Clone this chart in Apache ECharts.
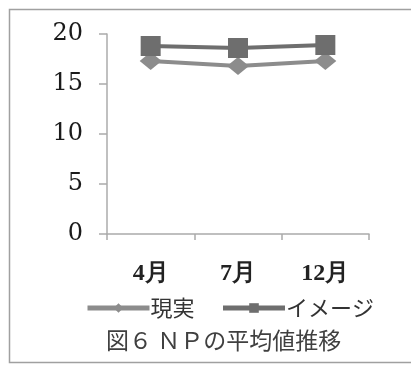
<!DOCTYPE html>
<html>
<head>
<meta charset="utf-8">
<script src="https://cdn.jsdelivr.net/npm/echarts@6/dist/echarts.min.js"></script>
<style>
  html, body { margin: 0; padding: 0; background: #fff; }
  #chart { width: 411px; height: 365px; }
</style>
</head>
<body>
<div id="chart"></div>
<script>
// Months surveyed and average NP scores for each series
const months = ['4月', '7月', '12月'];
const actualValues = [17.3, 16.8, 17.3];   // 現実
const imageValues = [18.8, 18.6, 18.9];    // イメージ
const yTicks = { min: 0, max: 20, interval: 5 };
const captionText = '図６ ＮＰの平均値推移';

const chart = echarts.init(document.getElementById('chart'));
const axisGray = '#ababab';
const actualGray = '#8c8c8c';
const imageGray = '#6e6e6e';

chart.setOption({
  backgroundColor: '#ffffff',
  animation: false,
  grid: { left: 107, right: 42, top: 34, bottom: 131 },
  graphic: [
    {
      type: 'rect',
      shape: { x: 9.5, y: 9.5, width: 420, height: 353 },
      style: { fill: 'none', stroke: '#a0a0a0', lineWidth: 1.5 },
      silent: true
    },
    {
      type: 'text',
      left: 106,
      top: 329,
      style: {
        text: captionText,
        font: '23px "Noto Sans CJK JP"',
        fill: '#404040'
      }
    }
  ],
  xAxis: {
    type: 'category',
    data: months,
    boundaryGap: true,
    axisLine: { lineStyle: { color: axisGray, width: 1.5 } },
    axisTick: { show: true, length: 6, lineStyle: { color: axisGray, width: 1.5 } },
    axisLabel: {
      margin: 28,
      color: '#222',
      fontFamily: 'Liberation Serif',
      fontWeight: 'bold',
      fontSize: 24
    }
  },
  yAxis: {
    type: 'value',
    min: yTicks.min,
    max: yTicks.max,
    interval: yTicks.interval,
    splitLine: { show: false },
    axisLine: { show: true, lineStyle: { color: axisGray, width: 1.5 } },
    axisTick: { show: true, length: 8, lineStyle: { color: axisGray, width: 1.5 } },
    axisLabel: {
      margin: 24,
      color: '#1a1a1a',
      fontFamily: 'DejaVu Serif',
      fontSize: 24
    }
  },
  legend: {
    top: 292,
    left: 80,
    itemWidth: 62,
    itemHeight: 12,
    itemGap: 26,
    lineStyle: { width: 5 },
    textStyle: {
      fontFamily: '"Noto Sans CJK JP"',
      fontSize: 22,
      color: '#333',
      padding: [0, 0, 0, -4]
    },
    data: ['現実', 'イメージ']
  },
  series: [
    {
      name: '現実',
      type: 'line',
      data: actualValues,
      symbol: 'diamond',
      symbolSize: [22, 18],
      lineStyle: { color: actualGray, width: 4 },
      itemStyle: { color: actualGray }
    },
    {
      name: 'イメージ',
      type: 'line',
      data: imageValues,
      symbol: 'rect',
      symbolSize: 20,
      lineStyle: { color: imageGray, width: 4 },
      itemStyle: { color: imageGray }
    }
  ]
});
</script>
</body>
</html>
